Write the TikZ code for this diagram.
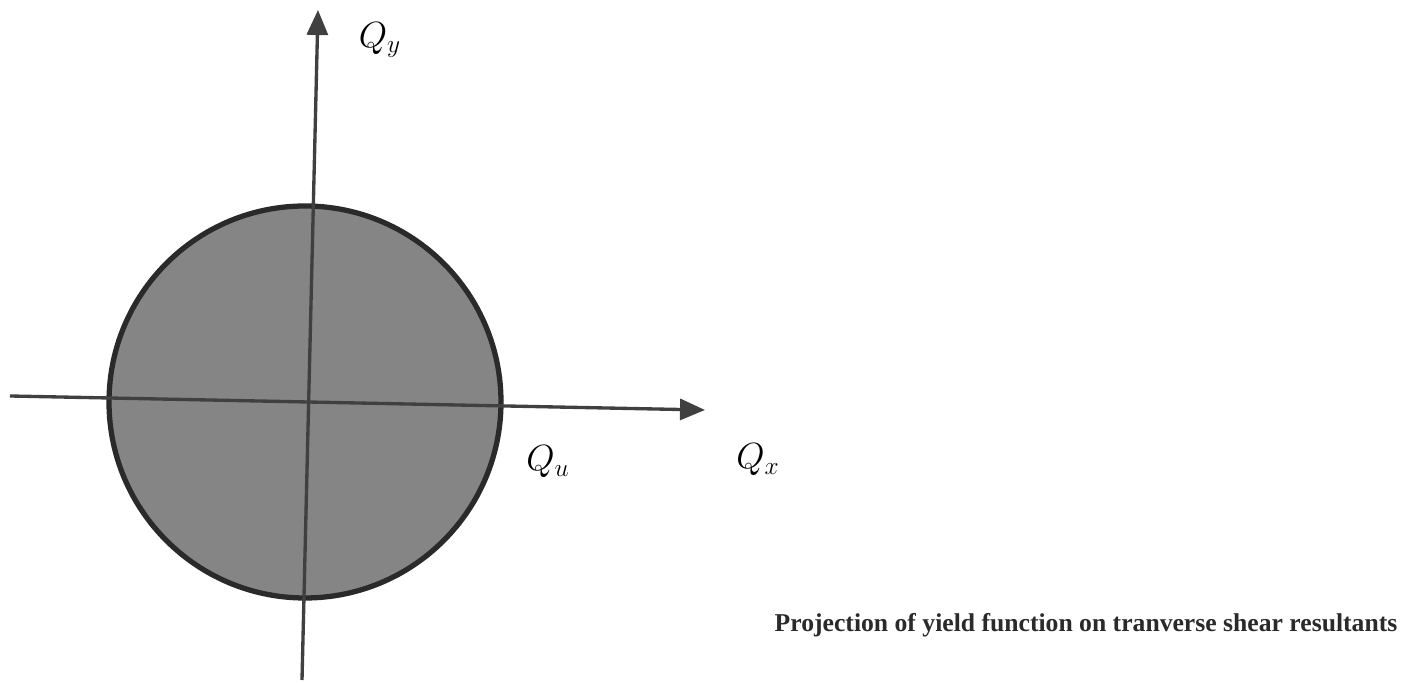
\documentclass[tikz,border=0pt]{standalone}
\usepackage{fontspec}
\setmainfont{Liberation Serif}
\usepackage{xcolor}
\usetikzlibrary{arrows.meta}
\definecolor{shade-gray}{HTML}{858585}
\definecolor{rim}{HTML}{2A2A2A}
\definecolor{axis-gray}{HTML}{404040}

\begin{document}
\begin{tikzpicture}[every node/.style={font=\fontsize{20}{24}\selectfont},
    axis/.style={line width=1.9pt, color=axis-gray, -{Triangle[length=0.5cm,width=0.42cm]}}]
    \useasboundingbox (0,0) rectangle (28.14,13.66);
    % yield surface
    \node[circle, draw=rim, line width=3pt, fill=shade-gray, minimum size=7.84cm, inner sep=0pt] (yield) at (6.1,5.62) {};
    % axes
    \coordinate (xstart) at (0.2,5.74);
    \coordinate (xend) at (14.1,5.46);
    \coordinate (ystart) at (6.04,0.06);
    \coordinate (yend) at (6.36,13.46);
    \draw[axis] (xstart) -- (xend);
    \draw[axis] (ystart) -- (yend);
    \node (qy) at (7.6,12.86) {$Q_y$};
    \node (qu) at (10.96,4.42) {$Q_u$};
    \node (qx) at (15.16,4.46) {$Q_x$};
    \node[font=\fontsize{14.6}{18}\selectfont\bfseries, color=rim] (caption) at (21.72,1.16) {Projection of yield function on tranverse shear resultants};
\end{tikzpicture}
\end{document}
